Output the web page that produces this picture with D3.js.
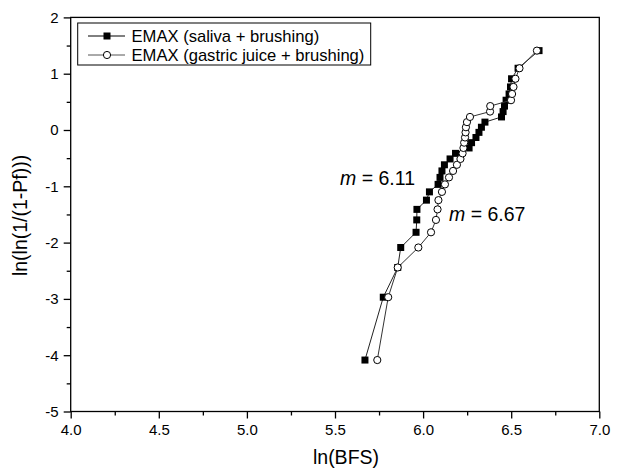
<!DOCTYPE html>
<html>
<head>
<meta charset="utf-8">
<script src="https://cdn.jsdelivr.net/npm/d3@7"></script>
<style>
  html, body { margin: 0; padding: 0; background: #fff; }
  svg { display: block; font-family: Arial, "Liberation Sans", sans-serif; }
</style>
</head>
<body>
<svg id="chart" width="618" height="472"></svg>
<script>
// Weibull plot: ln(ln(1/(1-Pf))) against ln(BFS) for two storage conditions
const seriesNames = ["EMAX (saliva + brushing)", "EMAX (gastric juice + brushing)"];

// ln(ln(1/(1-Pf))) for ranks 1..30, Pf = (i - 0.5) / 30
const weibullY = [-4.086, -2.970, -2.442, -2.087, -1.817, -1.597, -1.410, -1.246, -1.099, -0.966,
                  -0.842, -0.727, -0.618, -0.514, -0.415, -0.319, -0.225, -0.133, -0.042, 0.049,
                   0.140,  0.232,  0.327,  0.425,  0.529,  0.640,  0.765,  0.910,  1.097, 1.410];

// ln(BFS), saliva + brushing
const salivaX = [5.670, 5.774, 5.856, 5.873, 5.960, 5.964, 5.965, 6.019, 6.036, 6.085,
                 6.096, 6.107, 6.121, 6.153, 6.184, 6.261, 6.275, 6.300, 6.317, 6.331,
                 6.351, 6.445, 6.454, 6.462, 6.471, 6.488, 6.496, 6.502, 6.539, 6.658];

// ln(BFS), gastric juice + brushing
const gastricX = [5.740, 5.802, 5.856, 5.973, 6.045, 6.073, 6.082, 6.087, 6.107, 6.124,
                  6.147, 6.170, 6.192, 6.212, 6.224, 6.229, 6.233, 6.238, 6.241, 6.243,
                  6.249, 6.266, 6.380, 6.381, 6.499, 6.505, 6.513, 6.524, 6.547, 6.646];

const slopeLabels = ["6.11", "6.67"];
const xTicks = [4.0, 4.5, 5.0, 5.5, 6.0, 6.5, 7.0];
const yTicks = [-5, -4, -3, -2, -1, 0, 1, 2];

const svg = d3.select("#chart");
const plot = { left: 70.7, right: 599.3, top: 17.4, bottom: 411.5 };

const x = d3.scaleLinear().domain([4, 7]).range([plot.left, plot.right]);
const y = d3.scaleLinear().domain([-5, 2]).range([plot.bottom, plot.top]);

// frame
svg.append("rect")
  .attr("x", plot.left).attr("y", plot.top)
  .attr("width", plot.right - plot.left).attr("height", plot.bottom - plot.top)
  .attr("fill", "none").attr("stroke", "#000").attr("stroke-width", 1.3);

// minor ticks
const xAxisMinor = d3.axisBottom(x).tickValues(d3.range(4.25, 7, 0.5)).tickSize(4).tickFormat("");
const yAxisMinor = d3.axisLeft(y).tickValues(d3.range(-4.5, 2, 1)).tickSize(4).tickFormat("");
svg.append("g").attr("transform", `translate(0,${plot.bottom})`).call(xAxisMinor)
  .call(g => g.select(".domain").remove());
svg.append("g").attr("transform", `translate(${plot.left},0)`).call(yAxisMinor)
  .call(g => g.select(".domain").remove());

// major ticks + labels
const xAxis = d3.axisBottom(x).tickValues(xTicks).tickSize(7).tickPadding(6).tickFormat(d3.format(".1f"));
const yAxis = d3.axisLeft(y).tickValues(yTicks).tickSize(7).tickPadding(5).tickFormat(d => d < 0 ? "-" + Math.abs(d) : d);
const gx = svg.append("g").attr("transform", `translate(0,${plot.bottom})`).call(xAxis);
const gy = svg.append("g").attr("transform", `translate(${plot.left},0)`).call(yAxis);
[gx, gy].forEach(g => {
  g.select(".domain").remove();
  g.selectAll("text").attr("font-size", 15).attr("font-family", "Arial, 'Liberation Sans', sans-serif").attr("fill", "#000");
});
svg.selectAll(".tick line").attr("stroke", "#000").attr("stroke-width", 1.3);

// axis titles
svg.append("text")
  .attr("x", 346).attr("y", 464)
  .attr("text-anchor", "middle").attr("font-size", 19.5)
  .text("ln(BFS)");
svg.append("text")
  .attr("transform", `translate(27,${(plot.top + plot.bottom) / 2 + 1}) rotate(-90)`)
  .attr("text-anchor", "middle").attr("font-size", 19.5)
  .text("ln(ln(1/(1-Pf)))");

const line = d3.line().x(d => x(d[0])).y(d => y(d[1]));
const salivaPts = salivaX.map((v, i) => [v, weibullY[i]]);
const gastricPts = gastricX.map((v, i) => [v, weibullY[i]]);
const sq = 7, cr = 3.6;

// saliva series: filled squares
svg.append("path").datum(salivaPts).attr("d", line)
  .attr("fill", "none").attr("stroke", "#222").attr("stroke-width", 1);
svg.append("g").selectAll("rect").data(salivaPts).join("rect")
  .attr("x", d => x(d[0]) - sq / 2).attr("y", d => y(d[1]) - sq / 2)
  .attr("width", sq).attr("height", sq).attr("fill", "#000");

// gastric juice series: open circles
svg.append("path").datum(gastricPts).attr("d", line)
  .attr("fill", "none").attr("stroke", "#333").attr("stroke-width", 1);
svg.append("g").selectAll("circle").data(gastricPts).join("circle")
  .attr("cx", d => x(d[0])).attr("cy", d => y(d[1])).attr("r", cr)
  .attr("fill", "#fff").attr("stroke", "#000").attr("stroke-width", 1);

// slope annotations
function slopeText(xp, yp, val) {
  const t = svg.append("text").attr("x", xp).attr("y", yp).attr("font-size", 19.5);
  t.append("tspan").attr("font-style", "italic").text("m");
  t.append("tspan").text(" = " + val);
}
slopeText(340, 184.5, slopeLabels[0]);
slopeText(449, 221, slopeLabels[1]);

// legend
const lg = svg.append("g");
lg.append("rect").attr("x", 77.7).attr("y", 23).attr("width", 293).attr("height", 42)
  .attr("fill", "#fff").attr("stroke", "#000").attr("stroke-width", 1);
const rows = [36, 55];
seriesNames.forEach((name, i) => {
  const ry = rows[i];
  lg.append("line").attr("x1", 88).attr("x2", 125).attr("y1", ry).attr("y2", ry)
    .attr("stroke", i === 0 ? "#000" : "#555").attr("stroke-width", 1);
  if (i === 0) {
    lg.append("rect").attr("x", 107 - sq / 2).attr("y", ry - sq / 2).attr("width", sq).attr("height", sq).attr("fill", "#000");
  } else {
    lg.append("circle").attr("cx", 107).attr("cy", ry).attr("r", cr).attr("fill", "#fff").attr("stroke", "#000");
  }
  lg.append("text").attr("x", 131.5).attr("y", ry + 5.5).attr("font-size", 16.6).text(name);
});
</script>
</body>
</html>
